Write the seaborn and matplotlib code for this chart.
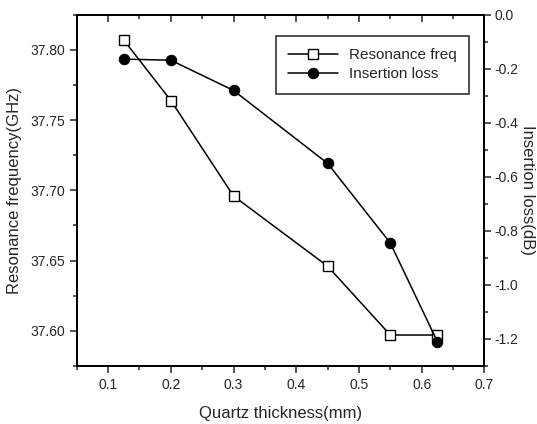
import matplotlib
matplotlib.use("Agg")
import matplotlib.pyplot as plt
from matplotlib.ticker import MultipleLocator
import seaborn as sns
import pandas as pd

thickness = [0.125, 0.2, 0.3, 0.45, 0.55, 0.625]
res_freq = [37.807, 37.764, 37.696, 37.646, 37.597, 37.597]
ins_loss = [-0.164, -0.168, -0.28, -0.55, -0.845, -1.21]

sns.set_style("ticks")
plt.rcParams['font.family'] = ['Liberation Sans', 'DejaVu Sans']

df = pd.DataFrame({"thickness": thickness, "freq": res_freq, "loss": ins_loss})

fig = plt.figure(figsize=(5.37, 4.24), dpi=100)
ax = fig.add_axes([0.143, 0.137, 0.759, 0.828])
ax2 = ax.twinx()

sns.lineplot(data=df, x="thickness", y="freq", ax=ax, color="black", lw=1.1,
             marker="s", markersize=6.5, markerfacecolor="white",
             markeredgecolor="black", markeredgewidth=1.0, label="Resonance freq",
             legend=False)
sns.lineplot(data=df, x="thickness", y="loss", ax=ax2, color="black", lw=1.1,
             marker="o", markersize=7.5, markerfacecolor="black",
             markeredgecolor="black", label="Insertion loss", legend=False)

ax.set_xlim(0.05, 0.7)
ax.set_ylim(37.575, 37.825)
ax2.set_ylim(-1.3, 0.0)

ax.xaxis.set_minor_locator(MultipleLocator(0.05))
ax.yaxis.set_minor_locator(MultipleLocator(0.025))
ax2.yaxis.set_minor_locator(MultipleLocator(0.1))

ax.set_xticks([0.1, 0.2, 0.3, 0.4, 0.5, 0.6, 0.7])
ax.set_xticklabels(["0.1", "0.2", "0.3", "0.4", "0.5", "0.6", "0.7"])
ax.set_yticks([37.60, 37.65, 37.70, 37.75, 37.80])
ax.set_yticklabels(["37.60", "37.65", "37.70", "37.75", "37.80"])
ax2.set_yticks([0.0, -0.2, -0.4, -0.6, -0.8, -1.0, -1.2])
ax2.set_yticklabels(["0.0", "-0.2", "-0.4", "-0.6", "-0.8", "-1.0", "-1.2"])

for a in (ax, ax2):
    for s in a.spines.values():
        s.set_linewidth(1.3)
        s.set_color("black")
        s.set_visible(True)

ax.tick_params(axis="x", which="both", direction="out", top=True, labelsize=10, width=1.1)
ax.tick_params(axis="x", which="major", length=5)
ax.tick_params(axis="x", which="minor", length=3)
ax.tick_params(axis="y", which="major", direction="out", length=5, width=1.1, labelsize=10)
ax.tick_params(axis="y", which="minor", direction="out", length=3, width=1.1)
ax2.tick_params(axis="y", which="major", direction="out", length=5, width=1.1, labelsize=10, pad=2)
ax2.tick_params(axis="y", which="minor", direction="out", length=3, width=1.1)
for t in ax.xaxis.get_major_ticks() + ax.xaxis.get_minor_ticks():
    t.tick2line.set_marker(3)

ax.set_xlabel("Quartz thickness(mm)", fontsize=12, labelpad=10)
ax.set_ylabel("Resonance frequency(GHz)", fontsize=12, labelpad=6)
ax2.set_ylabel("Insertion loss(dB)", fontsize=12, rotation=-90, va="center", ha="center")
ax2.yaxis.set_label_coords(1.105, 0.5)

h1, l1 = ax.get_legend_handles_labels()
h2, l2 = ax2.get_legend_handles_labels()
leg = ax2.legend(h1 + h2, l1 + l2, loc="upper right", bbox_to_anchor=(0.962, 0.94),
                 frameon=True, fancybox=False, edgecolor="black", fontsize=11,
                 handlelength=3.3, handletextpad=0.7, borderpad=0.8, labelspacing=0.35,
                 borderaxespad=0)
leg.get_frame().set_linewidth(1.2)

fig.savefig("out.png", dpi=100)
